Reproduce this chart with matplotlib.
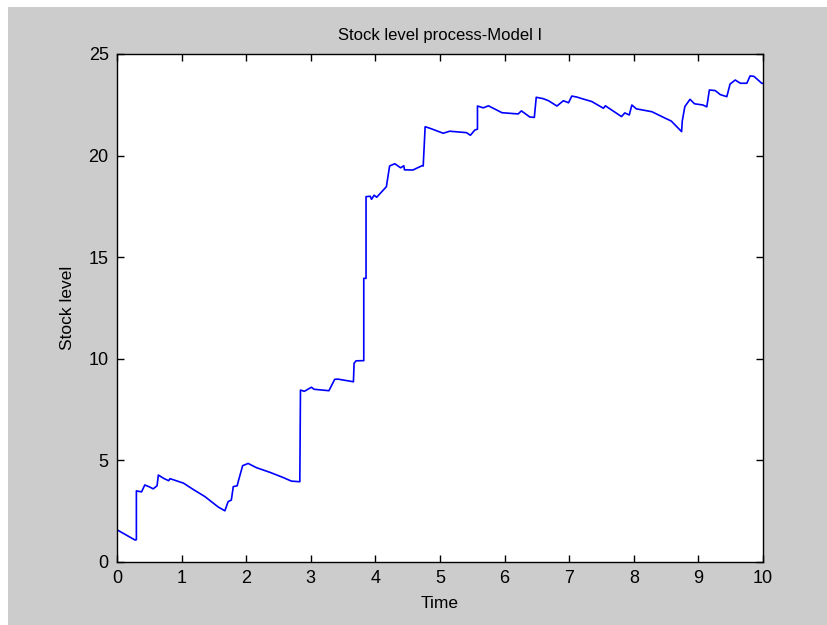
import matplotlib.pyplot as plt
from matplotlib.patches import Rectangle

plt.rcParams['font.family'] = ['Liberation Sans', 'DejaVu Sans']

# stock level path (time, level)
t = [0, 0, 0.02, 0.28, 0.30, 0.30, 0.38, 0.43, 0.50, 0.56, 0.62, 0.64, 0.72, 0.80, 0.82,
     0.87, 1.03, 1.17, 1.36, 1.57, 1.67, 1.72, 1.77, 1.80, 1.86, 1.88, 1.945, 2.03, 2.16,
     2.37, 2.57, 2.70, 2.83, 2.84, 2.90, 3.01, 3.05, 3.28, 3.30, 3.37, 3.42, 3.66, 3.67,
     3.70, 3.82, 3.82, 3.855, 3.855, 3.92, 3.94, 3.98, 4.02, 4.17, 4.22, 4.30, 4.39, 4.44,
     4.45, 4.58, 4.72, 4.74, 4.77, 4.84, 5.05, 5.15, 5.41, 5.47, 5.54, 5.58, 5.58, 5.67,
     5.75, 5.96, 6.21, 6.26, 6.39, 6.46, 6.49, 6.60, 6.68, 6.81, 6.91, 6.99, 7.04, 7.12,
     7.20, 7.35, 7.53, 7.56, 7.81, 7.86, 7.93, 7.97, 8.04, 8.28, 8.48, 8.58, 8.74, 8.75,
     8.79, 8.87, 8.94, 9.07, 9.13, 9.17, 9.26, 9.34, 9.44, 9.49, 9.57, 9.65, 9.75, 9.80,
     9.86, 9.98, 10.0]
level = [0, 1.57, 1.55, 1.08, 1.1, 3.5, 3.45, 3.79, 3.7, 3.6, 3.75, 4.28, 4.12, 4.0, 4.1,
         4.05, 3.88, 3.59, 3.22, 2.7, 2.52, 2.97, 3.05, 3.71, 3.75, 4.0, 4.74, 4.85, 4.64,
         4.41, 4.16, 3.98, 3.95, 8.46, 8.4, 8.6, 8.5, 8.43, 8.55, 8.99, 9.0, 8.87, 9.78,
         9.9, 9.91, 13.96, 13.96, 17.98, 18.0, 17.85, 18.05, 17.95, 18.47, 19.49, 19.6,
         19.4, 19.5, 19.3, 19.29, 19.5, 19.49, 21.42, 21.35, 21.1, 21.2, 21.13, 21.0, 21.26,
         21.3, 22.44, 22.35, 22.45, 22.11, 22.05, 22.2, 21.9, 21.88, 22.87, 22.8, 22.7, 22.44,
         22.7, 22.6, 22.93, 22.88, 22.8, 22.66, 22.33, 22.45, 21.92, 22.1, 22.0, 22.49, 22.3,
         22.16, 21.85, 21.7, 21.18, 21.7, 22.41, 22.77, 22.55, 22.49, 22.4, 23.23, 23.2,
         23.0, 22.9, 23.52, 23.72, 23.56, 23.56, 23.92, 23.9, 23.56, 23.55]

fig = plt.figure(figsize=(8.27, 6.25), dpi=100, facecolor='white')
fig.patches.append(Rectangle((8 / 827, 0), 1, 1 - 7 / 625, transform=fig.transFigure,
                             facecolor='#cccccc', edgecolor='none', zorder=-1))
ax = fig.add_axes([117 / 827, 1 - 562 / 625, 646 / 827, 508 / 625])
ax.plot(t, level, color='#0000ff', linewidth=1.2)

ax.set_xlim(0, 10)
ax.set_ylim(0, 25)
ax.set_xticks(range(0, 11))
ax.set_yticks(range(0, 26, 5))
ax.tick_params(direction='in', top=True, right=True, length=5, labelsize=13,
               pad=6, width=1)
for s in ax.spines.values():
    s.set_linewidth(1)
ax.set_title('Stock level process-Model I', fontsize=12, pad=10)
ax.set_xlabel('Time', fontsize=12.5, labelpad=6)
ax.set_ylabel('Stock level', fontsize=12.5, labelpad=10)

fig.savefig('out.png', dpi=100, facecolor=fig.get_facecolor())
